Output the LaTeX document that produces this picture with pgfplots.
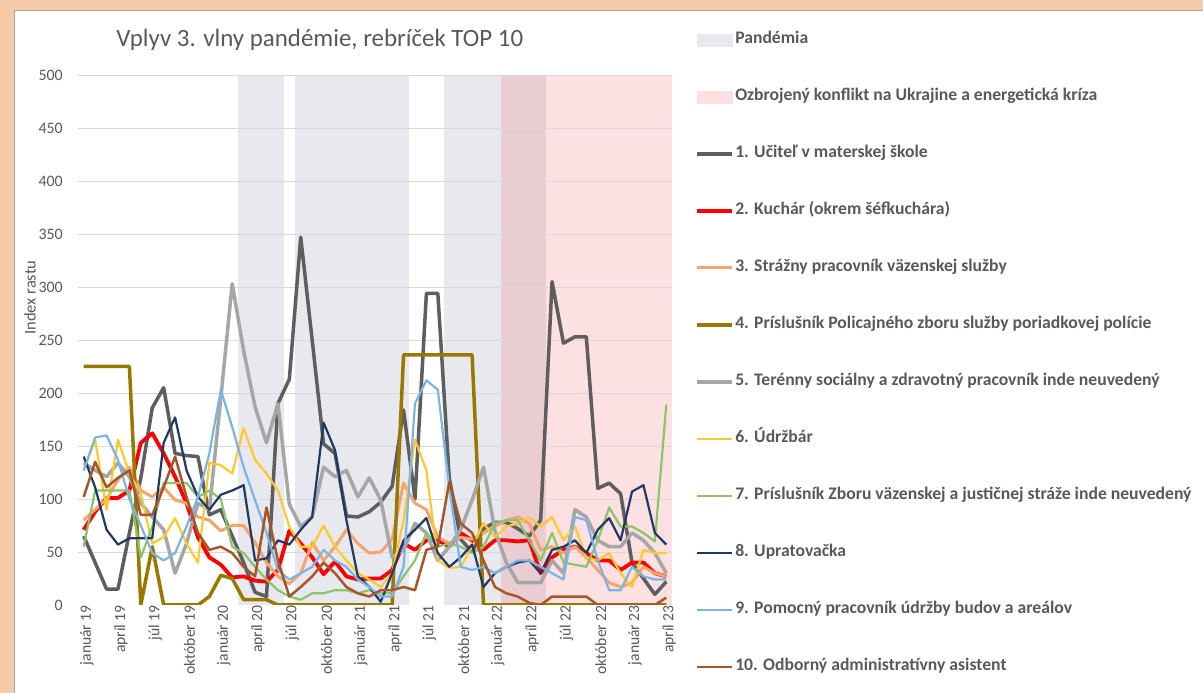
\documentclass[border=0pt]{standalone}
\usepackage{fontspec}
\setmainfont{Carlito}
\usepackage{pgfplots}
\usepackage{pgfplotstable}
\pgfplotsset{compat=1.18}
\definecolor{txt}{HTML}{595959}
\definecolor{gridc}{HTML}{D9D9D9}
\definecolor{pand}{HTML}{E7E9EE}
\definecolor{war}{HTML}{FDE0E1}
\definecolor{both}{HTML}{E9CDD2}
\definecolor{c1}{HTML}{5E5E5E}
\definecolor{c2}{HTML}{FF0000}
\definecolor{c3}{HTML}{F5A46E}
\definecolor{c4}{HTML}{9A7800}
\definecolor{c5}{HTML}{A6A6A6}
\definecolor{c6}{HTML}{FFC92E}
\definecolor{c7}{HTML}{8CC46A}
\definecolor{c8}{HTML}{203864}
\definecolor{c9}{HTML}{7DB4E6}
\definecolor{c10}{HTML}{A5572A}
\definecolor{bgor}{HTML}{F6CBAA}

\pgfplotstableread{
i s1 s2 s3 s4 s5 s6 s7 s8 s9 s10
0 65 71 80 225 134 127 55 140 127 102
1 40 88 90 225 127 156 108 111 158 135
2 15 101 100 225 121 90 108 71 160 111
3 15 101 118 225 134 156 108 57 137 120
4 68 108 130 225 121 124 108 63 100 127
5 120 153 108 0 96 105 45 63 75 85
6 186 162 102 55 83 58 74 63 49 85
7 205 143 111 0 71 64 115 153 42 111
8 143 121 99 0 30 82 115 177 49 140
9 141 96 96 0 58 58 115 127 74 102
10 140 64 83 0 96 40 102 102 102 68
11 85 45 80 8 90 134 108 90 143 52
12 90 38 70 28 195 132 100 104 203 55
13 65 26 75 25 303 124 55 108 168 49
14 40 27 75 5 240 167 49 113 130 36
15 12 23 59 5 187 137 36 42 99 27
16 8 22 40 5 153 124 24 44 68 92
17 190 33 27 0 190 108 14 61 33 42
18 213 70 20 0 95 74 8 57 24 8
19 347 58 30 0 74 55 5 71 30 17
20 250 45 59 0 83 55 11 83 36 27
21 152 29 42 0 130 75 11 172 52 40
22 143 41 55 0 121 55 14 146 42 30
23 84 27 71 0 127 42 14 80 36 17
24 83 24 58 0 102 30 11 27 24 11
25 88 25 49 0 120 24 14 17 17 8
26 97 25 50 0 99 17 11 3 8 14
27 112 33 62 0 45 30 11 30 8 14
28 184 58 115 236 52 80 27 61 36 17
29 100 52 96 236 77 156 42 71 190 14
30 294 61 90 236 68 127 68 82 212 52
31 294 61 64 236 42 42 55 49 203 55
32 120 55 58 236 55 35 58 36 111 116
33 62 68 64 236 71 36 55 45 36 77
34 50 61 62 236 99 55 49 57 33 68
35 72 52 68 0 130 77 55 17 36 42
36 78 61 74 0 70 64 77 30 30 17
37 78 61 80 0 40 74 80 36 36 11
38 72 60 83 0 21 77 80 40 42 8
39 65 61 77 0 21 83 61 42 42 2
40 80 30 52 0 21 74 42 30 36 0
41 305 45 55 0 42 83 68 52 30 8
42 247 52 49 0 30 61 40 55 24 8
43 253 55 55 0 90 74 38 61 83 8
44 253 49 45 0 83 45 36 49 80 8
45 110 42 33 0 61 42 61 71 42 0
46 115 42 21 0 55 49 92 82 14 0
47 105 33 17 0 55 30 74 61 14 0
48 40 40 21 0 68 17 74 107 36 0
49 25 40 36 0 61 52 68 113 27 0
50 10 30 30 0 49 49 60 68 24 0
51 22 27 27 0 30 49 189 57 24 7
}\data

\begin{document}
\begin{tikzpicture}
\path[use as bounding box] (0,0) rectangle (1203bp,693bp);
\fill[bgor] (0,0) rectangle (1203bp,693bp);
\fill[white] (14bp,0) rectangle (1203bp,683bp);
\draw[black!35, line width=0.6bp] (14bp,0) -- (14bp,683bp) -- (1203bp,683bp);
\begin{axis}[
  at={(78bp,88bp)}, anchor=south west,
  scale only axis, width=594bp, height=530bp,
  xmin=-0.5, xmax=51.5, ymin=0, ymax=500,
  ytick={0,50,...,500},
  xtick={0,3,...,51},
  xticklabels={január 19,apríl 19,júl 19,október 19,január 20,apríl 20,júl 20,október 20,január 21,apríl 21,júl 21,október 21,január 22,apríl 22,júl 22,október 22,január 23,apríl 23},
  axis line style={draw=none},
  major tick length=0pt,
  tick label style={text=txt},
  xticklabel style={rotate=90, anchor=east, font=\fontsize{15.7}{15.7}\selectfont, inner sep=0pt, yshift=-3bp},
  yticklabel style={anchor=east, font=\fontsize{16}{16}\selectfont, inner sep=0pt, xshift=-15bp},
  /pgf/number format/assume math mode=true,
  ylabel={Index rastu},
  ylabel style={at={(rel axis cs:-0.0808,0.58)}, anchor=center, font=\fontsize{16.5}{16.5}\selectfont, text=txt},
  title={Vplyv 3. vlny pandémie, rebríček TOP 10},
  title style={at={(rel axis cs:0.407,1)}, anchor=center, yshift=29bp, font=\fontsize{25}{25}\selectfont, text=txt},
  legend style={at={(rel axis cs:1.0387,1.0788)}, anchor=north west, draw=none, fill=none, inner sep=0pt, outer sep=0pt, row sep=43.5bp, font=\bfseries\fontsize{17.7}{17.7}\selectfont, text=txt, nodes={inner sep=0pt, inner xsep=1.5bp, text height=10.5bp, text depth=3bp}},
  legend cell align=left,
  legend image code/.code={\draw[#1] (0bp,0bp) -- (35bp,0bp);},
]
\addlegendimage{legend image code/.code={\fill[pand] (0bp,-6bp) rectangle (35bp,6bp);}}
\addlegendentry{Pandémia}
\addlegendimage{legend image code/.code={\fill[war] (0bp,-6bp) rectangle (35bp,6bp);}}
\addlegendentry{Ozbrojený konflikt na Ukrajine a energetická kríza}

\addplot[fill=war, draw=none, forget plot] coordinates {(36.5,500) (51.5,500)} \closedcycle;
\addplot[fill=pand, draw=none, forget plot] coordinates {(13.5,500) (17.5,500)} \closedcycle;
\addplot[fill=pand, draw=none, forget plot] coordinates {(18.5,500) (28.5,500)} \closedcycle;
\addplot[fill=pand, draw=none, forget plot] coordinates {(31.5,500) (36.5,500)} \closedcycle;
\addplot[fill=both, draw=none, forget plot] coordinates {(36.5,500) (40.5,500)} \closedcycle;
\pgfplotsinvokeforeach{0,50,...,500}{
  \addplot[gridc, line width=0.9bp, forget plot] coordinates {(-0.5,#1) (51.5,#1)};
}

\addplot[c1, line width=3.5bp, line join=round] table[x=i,y=s1]{\data};
\addlegendentry{1. Učiteľ v materskej škole}
\addplot[c2, line width=3.8bp, line join=round] table[x=i,y=s2]{\data};
\addlegendentry{2. Kuchár (okrem šéfkuchára)}
\addplot[c3, line width=3bp, line join=round] table[x=i,y=s3]{\data};
\addlegendentry{3. Strážny pracovník väzenskej služby}
\addplot[c4, line width=3.5bp, line join=round] table[x=i,y=s4]{\data};
\addlegendentry{4. Príslušník Policajného zboru služby poriadkovej polície}
\addplot[c5, line width=3.5bp, line join=round] table[x=i,y=s5]{\data};
\addlegendentry{5. Terénny sociálny a zdravotný pracovník inde neuvedený}
\addplot[c6, line width=2.2bp, line join=round] table[x=i,y=s6]{\data};
\addlegendentry{6. Údržbár}
\addplot[c7, line width=2.2bp, line join=round] table[x=i,y=s7]{\data};
\addlegendentry{7. Príslušník Zboru väzenskej a justičnej stráže inde neuvedený}
\addplot[c8, line width=2.2bp, line join=round] table[x=i,y=s8]{\data};
\addlegendentry{8. Upratovačka}
\addplot[c9, line width=2.2bp, line join=round] table[x=i,y=s9]{\data};
\addlegendentry{9. Pomocný pracovník údržby budov a areálov}
\addplot[c10, line width=2.5bp, line join=round] table[x=i,y=s10]{\data};
\addlegendentry{10. Odborný administratívny asistent}
\end{axis}
\end{tikzpicture}
\end{document}
